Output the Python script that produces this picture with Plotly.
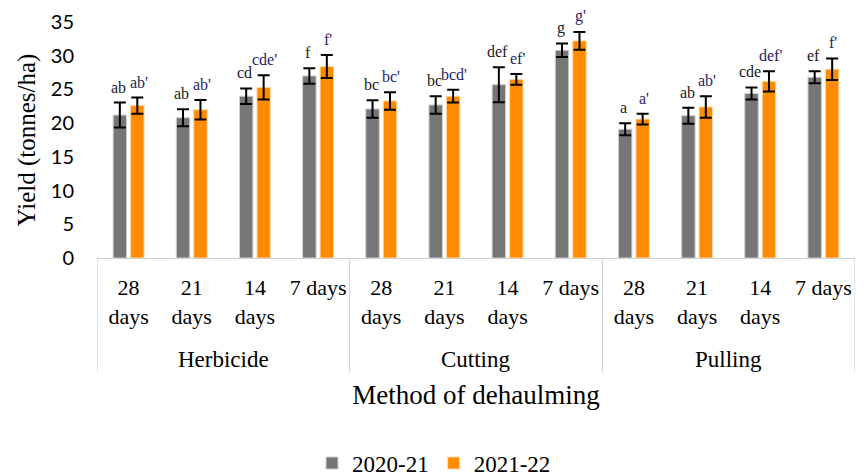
import plotly.graph_objects as go

methods = ["Herbicide", "Cutting", "Pulling"]
timings = ["28 days", "21 days", "14 days", "7 days"]
timing_labels = ["28<br>days", "21<br>days", "14<br>days", "7 days"]

yield_2021 = [21.2, 20.8, 24.0, 27.0, 22.1, 22.7, 25.7, 30.8, 19.1, 21.1, 24.4, 26.8]
err_2021 = [1.85, 1.25, 1.15, 1.15, 1.3, 1.3, 2.6, 1.0, 0.9, 1.2, 0.9, 0.9]
yield_2122 = [22.6, 22.0, 25.3, 28.4, 23.3, 24.0, 26.5, 32.2, 20.6, 22.4, 26.2, 28.0]
err_2122 = [1.2, 1.45, 1.8, 1.7, 1.3, 0.95, 0.8, 1.3, 0.8, 1.6, 1.5, 1.6]
letters_2021 = ["ab", "ab", "cd", "f", "bc", "bc", "def", "g", "a", "ab", "cde", "ef"]
letters_2122 = ["ab'", "ab'", "cde'", "f'", "bc'", "bcd'", "ef'", "g'", "a'", "ab'", "def'", "f'"]

keys = [f"{m} | {t}" for m in methods for t in timings]
ticktext = [lab for m in methods for lab in timing_labels]

SERIF = "Liberation Serif"
GRAY = "#767676"
ORANGE = "#FF8C00"

fig = go.Figure()
fig.add_trace(go.Bar(
    x=keys, y=yield_2021, name="2020-21", marker_color=GRAY,
    marker_line_color="#d0d0d0", marker_line_width=1,
    error_y=dict(type="data", array=err_2021, color="black", thickness=2, width=6),
))
fig.add_trace(go.Bar(
    x=keys, y=yield_2122, name="2021-22", marker_color=ORANGE,
    marker_line_color="#ffd9a8", marker_line_width=1,
    error_y=dict(type="data", array=err_2122, color="black", thickness=2, width=6),
))

annotations = []
for k, v, e, t in zip(keys, yield_2021, err_2021, letters_2021):
    annotations.append(dict(x=k, y=v + e, text=t, showarrow=False, xshift=-10, yshift=5,
                            yanchor="bottom", font=dict(family=SERIF, size=16, color="#1a1a1a")))
for k, v, e, t in zip(keys, yield_2122, err_2122, letters_2122):
    annotations.append(dict(x=k, y=v + e, text=t, showarrow=False, xshift=10, yshift=5,
                            yanchor="bottom", font=dict(family=SERIF, size=16, color="#271d63")))

# group labels
for i, m in enumerate(methods):
    annotations.append(dict(x=i * 4 + 1.5, xref="x", y=-0.428, yref="paper", text=m,
                            showarrow=False, yanchor="middle",
                            font=dict(family=SERIF, size=23, color="black")))

shapes = []
for b in [-0.5, 3.5, 7.5, 11.5]:
    shapes.append(dict(type="line", xref="x", yref="paper", x0=b, x1=b, y0=0, y1=-0.487,
                       line=dict(color="#cfcfcf", width=1)))

fig.update_layout(
    width=860, height=468,
    margin=dict(l=89, r=13, t=14, b=218, autoexpand=False),
    paper_bgcolor="white", plot_bgcolor="white",
    barmode="group", bargap=0.447, bargroupgap=0.23,
    showlegend=True,
    legend=dict(orientation="h", x=0.4446, xanchor="center",
                y=-0.869, yanchor="middle",
                font=dict(family=SERIF, size=23, color="black"), itemwidth=30),
    annotations=annotations, shapes=shapes,
    xaxis=dict(
        type="category", tickmode="array", tickvals=keys, ticktext=ticktext,
        range=[-0.5, 11.5], showline=True, linecolor="#cfcfcf", linewidth=1,
        ticks="", showgrid=False, zeroline=False, ticklabelstandoff=10, automargin=False,
        tickfont=dict(family=SERIF, size=22, color="black"),
        title=dict(text="Method of dehaulming", standoff=57,
                   font=dict(family=SERIF, size=27, color="black")),
    ),
    yaxis=dict(
        range=[0, 35], tickmode="array", tickvals=[0, 5, 10, 15, 20, 25, 30, 35],
        showline=False, showgrid=False, zeroline=False, ticks="",
        ticklabelstandoff=22, automargin=False,
        tickfont=dict(family="Lato", size=20, color="black"),
        title=dict(text="Yield (tonnes/ha)", standoff=8,
                   font=dict(family=SERIF, size=25, color="black")),
    ),
)

fig.write_html("out.html")
